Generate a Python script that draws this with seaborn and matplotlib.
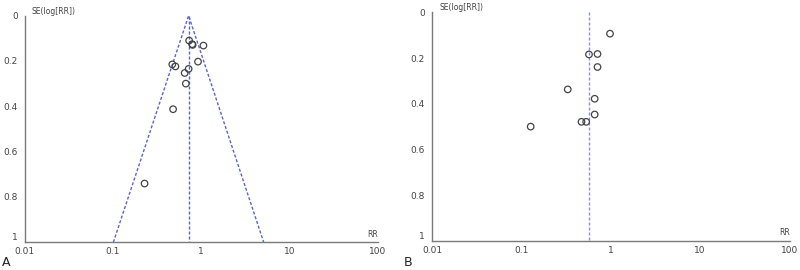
import numpy as np
import pandas as pd
import seaborn as sns
import matplotlib.pyplot as plt

# study estimates
rr_a = [0.73, 0.79, 0.80, 1.06, 0.92, 0.47, 0.51, 0.72, 0.65, 0.67, 0.48, 0.228]
se_a = [0.110, 0.126, 0.129, 0.132, 0.203, 0.215, 0.224, 0.235, 0.253, 0.300, 0.413, 0.741]
rr_b = [0.98, 0.57, 0.71, 0.71, 0.33, 0.66, 0.66, 0.47, 0.53, 0.127]
se_b = [0.093, 0.184, 0.182, 0.239, 0.337, 0.378, 0.447, 0.479, 0.479, 0.50]

# pooled estimate and pseudo 95% limits at SE = 1
pooled_a = 0.72
funnel_a_x = [0.101, 0.72, 5.11]
funnel_a_y = [1, 0, 1]
pooled_b = 0.567

x_ticks = [0.01, 0.1, 1, 10, 100]
x_labels = ['0.01', '0.1', '1', '10', '100']
y_ticks = [0, 0.2, 0.4, 0.6, 0.8, 1]
y_labels = ['0', '0.2', '0.4', '0.6', '0.8', '1']

sns.set_style('white')
plt.rcParams['font.family'] = ['DejaVu Sans']

fig = plt.figure(figsize=(8, 2.7), dpi=100)
ax_a = fig.add_axes([0.031, 0.103, 0.441, 0.839])
ax_b = fig.add_axes([0.540, 0.108, 0.447, 0.846])

grey = '#7a7a7a'
txt = '#444444'


def style_axis(ax):
    ax.set_xscale('log')
    ax.set_xlim(0.01, 100)
    ax.set_ylim(1, 0)
    ax.set_xticks(x_ticks)
    ax.set_xticklabels(x_labels)
    ax.set_yticks(y_ticks)
    ax.set_yticklabels(y_labels)
    ax.minorticks_off()
    for s in ['top', 'right']:
        ax.spines[s].set_visible(False)
    for s in ['left', 'bottom']:
        ax.spines[s].set_color(grey)
        ax.spines[s].set_linewidth(1.0)
    ax.tick_params(axis='x', direction='in', length=3, width=0.8, color=grey,
                   labelsize=6.5, labelcolor=txt, pad=3.5)
    ax.tick_params(axis='y', direction='out', length=3.5, width=0.8, color=grey,
                   labelsize=6.5, labelcolor=txt, pad=1.5)
    # lift the "1" label a touch so it clears the "0.01" label
    ax.get_yticklabels()[-1].set_va('bottom')
    ax.set_xlabel('')
    ax.set_ylabel('')
    ax.text(0.012, 0.0, 'SE(log[RR])', fontsize=5.5, color=txt, ha='left', va='bottom')
    ax.text(100, 0.985, 'RR', fontsize=5.5, color=txt, ha='right', va='bottom')


line_a = '#5566cc'
line_b = '#8a90e0'
dash = (0, (2.2, 1.4))

# panel A
df_a = pd.DataFrame({'RR': rr_a, 'SE': se_a})
ax_a.plot(funnel_a_x, funnel_a_y, color=line_a, linestyle=dash, linewidth=1.0)
ax_a.plot([pooled_a, pooled_a], [0, 1], color=line_a, linestyle=dash, linewidth=1.0)
sns.scatterplot(data=df_a, x='RR', y='SE', ax=ax_a, marker='o', s=22,
                facecolor='none', edgecolor='#444444', linewidth=0.9, zorder=3)
style_axis(ax_a)

# panel B
df_b = pd.DataFrame({'RR': rr_b, 'SE': se_b})
ax_b.plot([pooled_b, pooled_b], [0, 1], color=line_b, linestyle=dash, linewidth=1.0)
sns.scatterplot(data=df_b, x='RR', y='SE', ax=ax_b, marker='o', s=22,
                facecolor='none', edgecolor='#444444', linewidth=0.9, zorder=3)
style_axis(ax_b)

fig.text(0.003, 0.005, 'A', fontsize=9, color='#222222', ha='left', va='bottom')
fig.text(0.505, 0.005, 'B', fontsize=9, color='#222222', ha='left', va='bottom')

fig.savefig('out.png', dpi=100)
